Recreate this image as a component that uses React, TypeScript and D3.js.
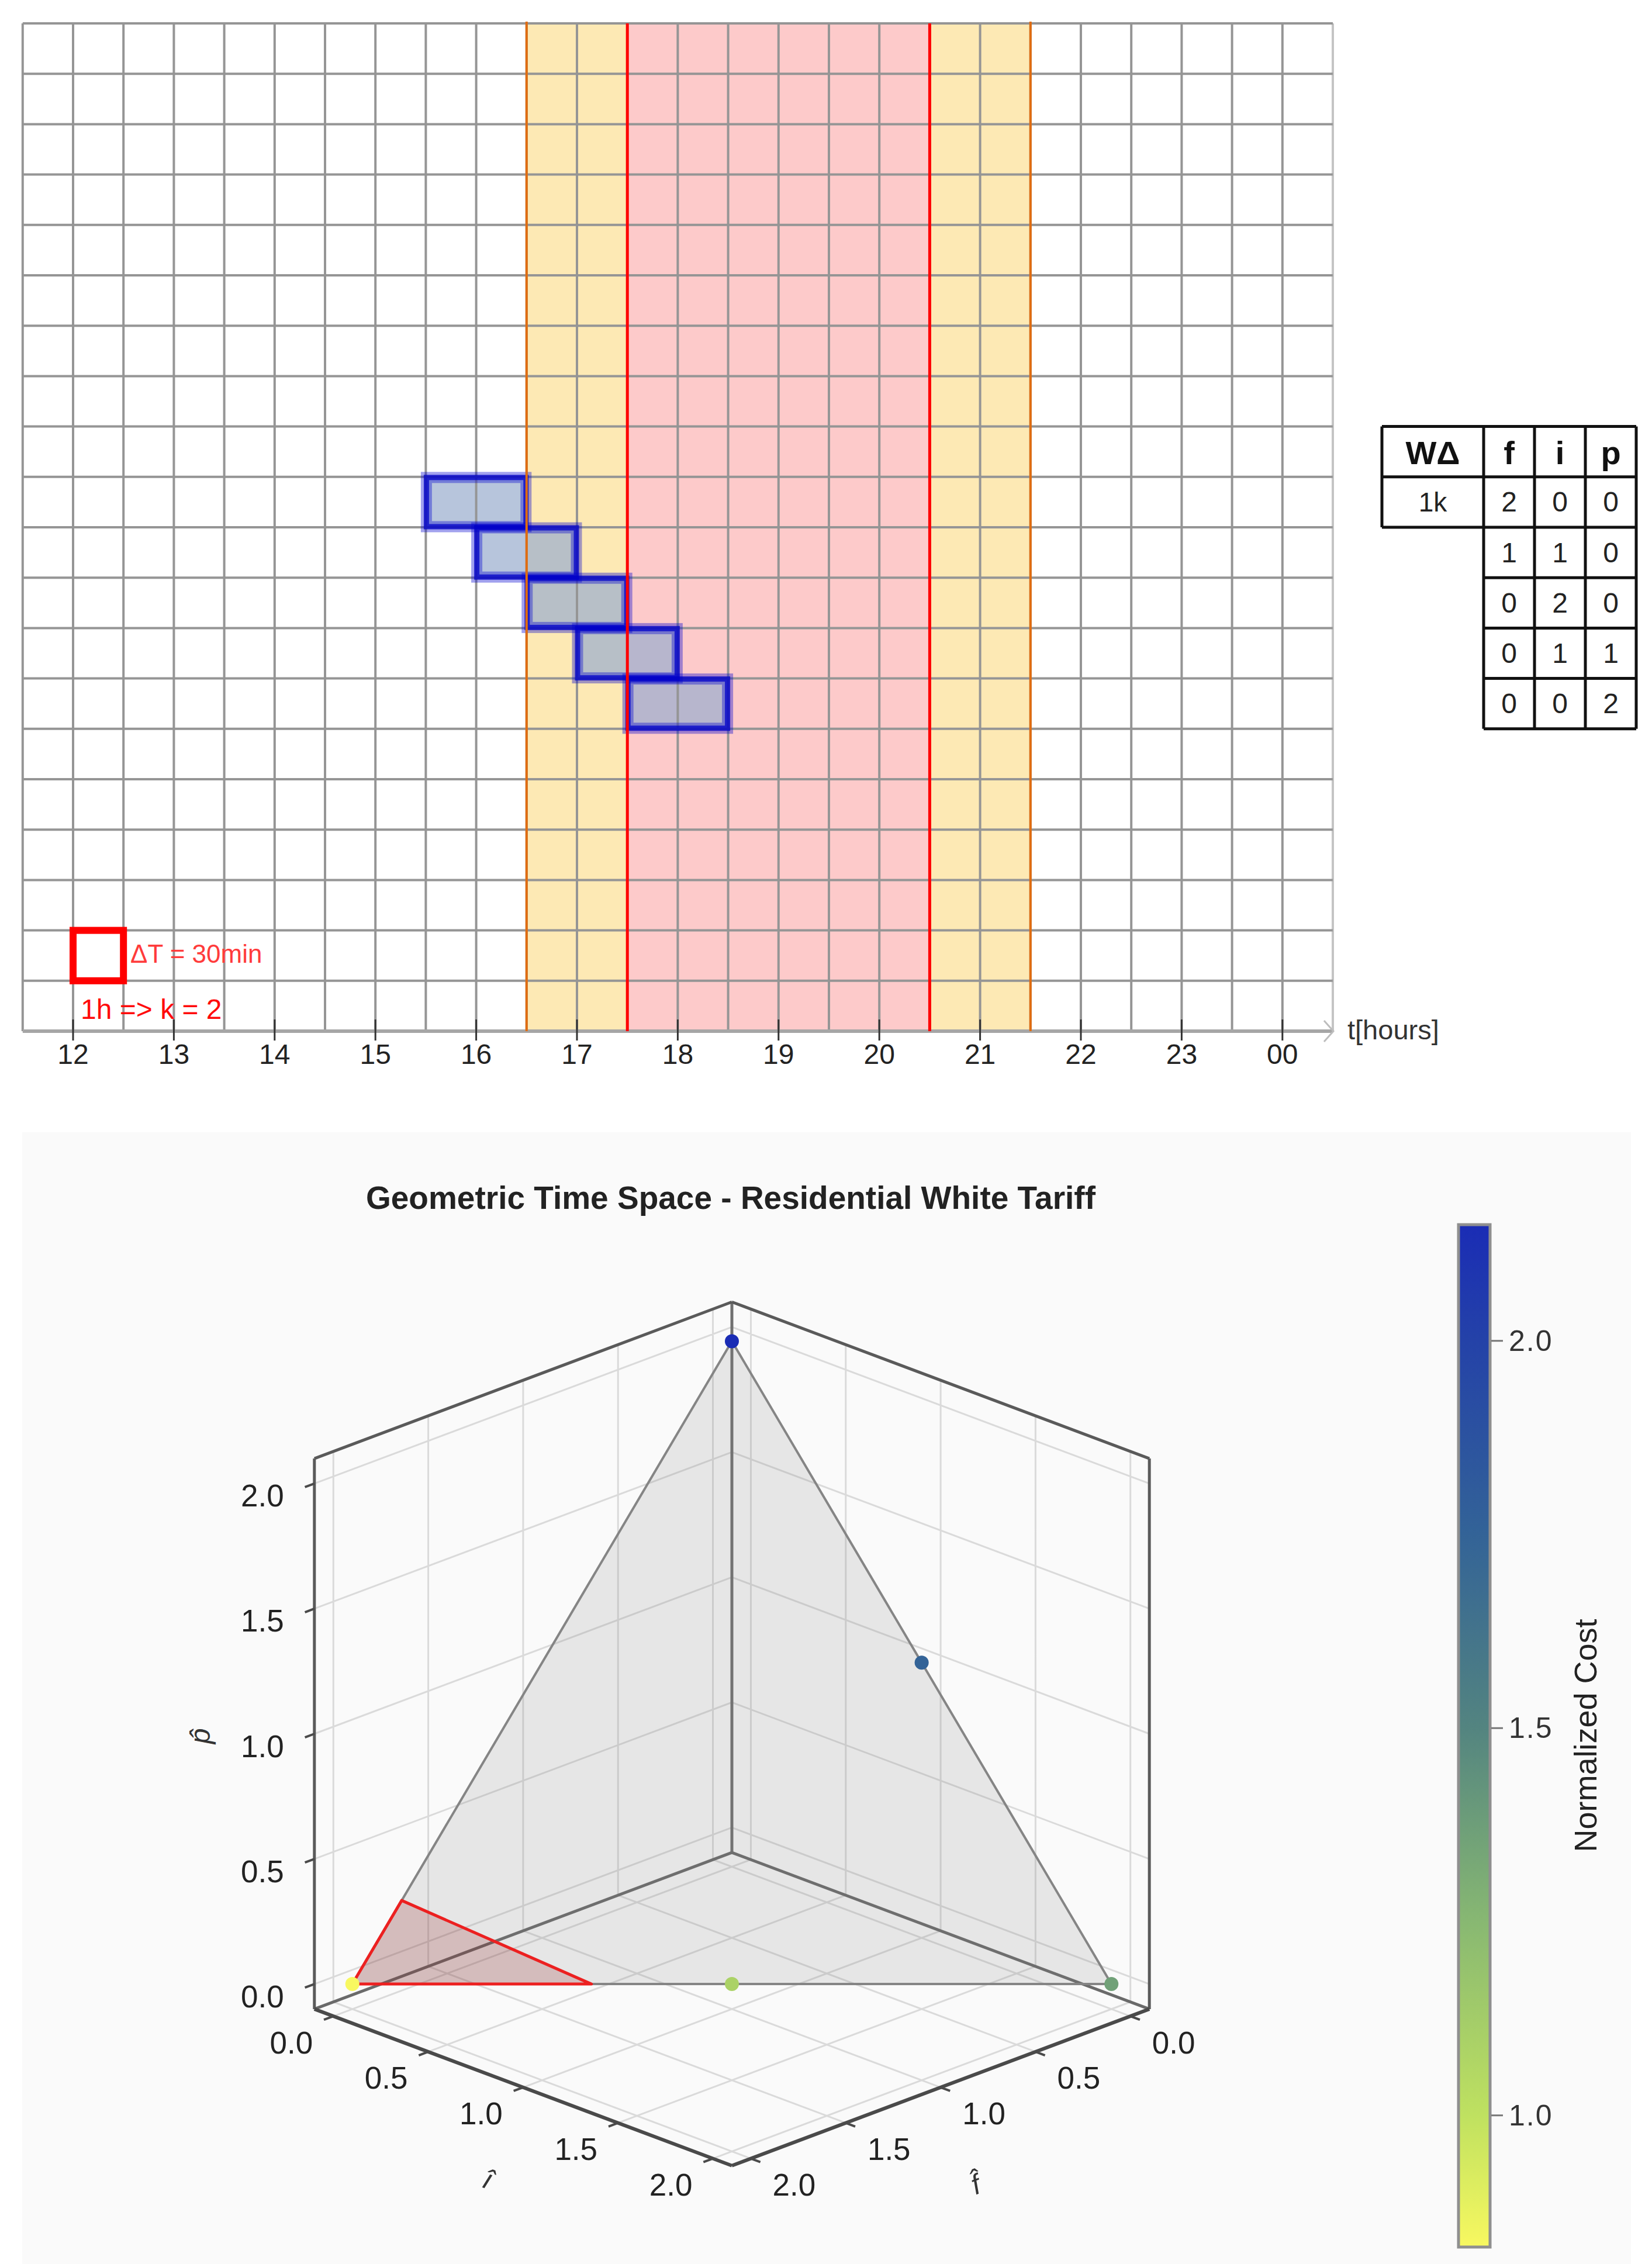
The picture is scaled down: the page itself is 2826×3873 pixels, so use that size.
import React from "react";
import * as d3 from "d3";

// ---------------- top chart data ----------------
const hourTicks = [12, 13, 14, 15, 16, 17, 18, 19, 20, 21, 22, 23, 24];
const hourLabels = ["12", "13", "14", "15", "16", "17", "18", "19", "20", "21", "22", "23", "00"];
const timeDomain = [11.5, 24.5];
const slotHours = 0.5;
const rowCount = 20;
const intermediatePeriod = [16.5, 21.5];
const peakPeriod = [17.5, 20.5];
const blockStarts = [15.5, 16, 16.5, 17, 17.5];
const blockRows = [9, 10, 11, 12, 13];
const blockHours = 1;
const exampleSlotStart = 12;
const exampleSlotRow = 18;

// ---------------- table data ----------------
const tableHeader = ["WΔ", "f", "i", "p"];
const tableEnergy = "1k";
const tableF = [2, 1, 0, 0, 0];
const tableI = [0, 1, 2, 1, 0];
const tableP = [0, 0, 0, 1, 2];
const tableFirstRow = 8;

// ---------------- 3D chart data ----------------
const pointF = [2, 1, 0, 0, 0];
const pointI = [0, 1, 2, 1, 0];
const pointP = [0, 0, 0, 1, 2];
const pointCost = [0.83, 1.09, 1.36, 1.75, 2.15];
const simplexVerts = [[2, 0, 0], [0, 2, 0], [0, 0, 2]];
const redRegion = [[2, 0, 0], [1.37, 0.63, 0], [1.74, 0, 0.26]];
const axisTicks = [0, 0.5, 1, 1.5, 2];
const axisLimits = [-0.1, 2.1];
const colorbarTicks = [1.0, 1.5, 2.0];
const cmapT = [0, 0.129, 0.318, 0.508, 0.697, 0.886, 1];
const cmapColors = ["#f8f860", "#bfe160", "#88b872", "#538480", "#336397", "#2442a8", "#1a2cb5"];

const FONT = "'Liberation Sans', Arial, Helvetica, sans-serif";

export default function App() {
  // ---------- top chart scales ----------
  const x = d3.scaleLinear().domain(timeDomain).range([38.8, 2280]);
  const y = d3.scaleLinear().domain([0, rowCount]).range([40, 1764]);
  const slots = d3.range(timeDomain[0], timeDomain[1] + 1e-6, slotHours);
  const rows = d3.range(0, rowCount + 1);

  // ---------- 3D projection ----------
  const [lo, hi] = axisLimits;
  const n = d3.scaleLinear().domain(axisLimits).range([-1, 1]);
  const S = 505, cx = 1252, cy = 2966;
  const sinE = 0.375, pz = 0.9325, c45 = Math.SQRT1_2;
  const proj = (f: number, i: number, p: number): [number, number] => {
    const nf = n(f), ni = n(i), np = n(p);
    return [cx + S * c45 * (ni - nf), cy + S * c45 * sinE * (nf + ni) - S * pz * np];
  };
  const seg = (a: [number, number], b: [number, number]) => `M${a[0]},${a[1]}L${b[0]},${b[1]}`;
  const poly = (pts: number[][]) => d3.line()(pts.map((v) => proj(v[0], v[1], v[2]))) + "Z";

  const costExtent = d3.extent(pointCost) as [number, number];
  const tScale = d3.scaleLinear().domain(costExtent).range([0, 1]);
  const cmap = d3.scaleLinear<string>().domain(cmapT).range(cmapColors).interpolate(d3.interpolateRgb);
  const cb = d3.scaleLinear().domain(costExtent).range([3844, 2095]);

  const gridPaths: string[] = [];
  axisTicks.forEach((t) => {
    gridPaths.push(seg(proj(t, lo, lo), proj(t, lo, hi)));
    gridPaths.push(seg(proj(lo, lo, t), proj(hi, lo, t)));
    gridPaths.push(seg(proj(lo, t, lo), proj(lo, t, hi)));
    gridPaths.push(seg(proj(lo, lo, t), proj(lo, hi, t)));
    gridPaths.push(seg(proj(t, lo, lo), proj(t, hi, lo)));
    gridPaths.push(seg(proj(lo, t, lo), proj(hi, t, lo)));
  });

  // table geometry
  const tx = [2364, 2538, 2625, 2712, 2799];
  const tyTop = y(tableFirstRow);
  const rowH = y(1) - y(0);

  return (
    <svg
      width={2826}
      height={3873}
      style={{ position: "absolute", left: 0, top: 0, display: "block", background: "#ffffff" }}
      fontFamily={FONT}
    >
      <defs>
        <linearGradient id="cbar" x1="0" y1="1" x2="0" y2="0">
          {cmapT.map((t, k) => (
            <stop key={k} offset={t} stopColor={cmapColors[k]} />
          ))}
        </linearGradient>
      </defs>

      {/* ================= TOP CHART ================= */}
      <rect x={x(intermediatePeriod[0])} y={y(0)} width={x(intermediatePeriod[1]) - x(intermediatePeriod[0])} height={y(rowCount) - y(0)} fill="#fde9b4" />
      <rect x={x(peakPeriod[0])} y={y(0)} width={x(peakPeriod[1]) - x(peakPeriod[0])} height={y(rowCount) - y(0)} fill="#fdcaca" />

      {/* block fills */}
      {blockStarts.map((s, k) => (
        <rect key={"bf" + k} x={x(s)} y={y(blockRows[k])} width={x(s + blockHours) - x(s)} height={y(1) - y(0)} fill="rgba(155,174,206,0.72)" />
      ))}

      {/* grid */}
      {slots.map((s, k) => (
        <line key={"v" + k} x1={x(s)} x2={x(s)} y1={y(0)} y2={y(rowCount)} stroke={k === slots.length - 1 ? "#c4c4c4" : "#959595"} strokeWidth={4} />
      ))}
      {rows.map((r) => (
        <line key={"h" + r} x1={x(timeDomain[0])} x2={x(timeDomain[1])} y1={y(r)} y2={y(r)} stroke={r === rowCount ? "#a6a6a6" : "#959595"} strokeWidth={r === rowCount ? 6 : 4} />
      ))}

      {/* block outlines */}
      {blockStarts.map((s, k) => (
        <g key={"bo" + k}>
          <rect x={x(s) + 1} y={y(blockRows[k]) + 1} width={x(s + blockHours) - x(s) - 2} height={y(1) - y(0) - 2} fill="none" stroke="rgba(0,0,210,0.37)" strokeWidth={19} />
          <rect x={x(s) + 1} y={y(blockRows[k]) + 1} width={x(s + blockHours) - x(s) - 2} height={y(1) - y(0) - 2} fill="none" stroke="rgba(0,0,200,0.75)" strokeWidth={9} />
        </g>
      ))}

      {/* period boundary lines */}
      {intermediatePeriod.map((t, k) => (
        <line key={"o" + k} x1={x(t)} x2={x(t)} y1={y(0) - 3} y2={y(rowCount)} stroke="#e06c10" strokeWidth={4} />
      ))}
      {peakPeriod.map((t, k) => (
        <line key={"r" + k} x1={x(t)} x2={x(t)} y1={y(0)} y2={y(rowCount)} stroke="#ff0000" strokeWidth={5} />
      ))}

      {/* example slot */}
      <rect x={x(exampleSlotStart)} y={y(exampleSlotRow)} width={x(exampleSlotStart + slotHours) - x(exampleSlotStart)} height={y(1) - y(0)} fill="none" stroke="#ff0000" strokeWidth={12} />
      <text x={223} y={1647} fontSize={44} fill="#ff3b3b">ΔT = 30min</text>
      <text x={138} y={1743} fontSize={48} fill="#ff0a0a">1h =&gt; k = 2</text>

      {/* x axis ticks & labels */}
      {hourTicks.map((h, k) => (
        <g key={"t" + k}>
          <line x1={x(h)} x2={x(h)} y1={y(rowCount) - 20} y2={y(rowCount) + 16} stroke="#333" strokeWidth={3} />
          <text x={x(h)} y={1820} fontSize={48} textAnchor="middle" fill="#222">{hourLabels[k]}</text>
        </g>
      ))}
      <polyline points={`${x(timeDomain[1]) - 15},${y(rowCount) - 18} ${x(timeDomain[1]) + 1},${y(rowCount)} ${x(timeDomain[1]) - 15},${y(rowCount) + 18}`} fill="none" stroke="#bdbdbd" strokeWidth={3} />
      <text x={2305} y={1778} fontSize={47} fill="#333">t[hours]</text>

      {/* ================= TABLE ================= */}
      <g>
        {tableHeader.map((h, k) => (
          <text key={"th" + k} x={(tx[k] + tx[k + 1]) / 2} y={tyTop + rowH / 2 + 2} fontSize={56} fontWeight="bold" textAnchor="middle" dominantBaseline="central" fill="#111">{h}</text>
        ))}
        <text x={(tx[0] + tx[1]) / 2} y={tyTop + rowH * 1.5} fontSize={46} textAnchor="middle" dominantBaseline="central" fill="#222">{tableEnergy}</text>
        {tableF.map((v, r) => (
          <g key={"tr" + r}>
            {[v, tableI[r], tableP[r]].map((val, c) => (
              <text key={c} x={(tx[c + 1] + tx[c + 2]) / 2} y={tyTop + rowH * (r + 1.5)} fontSize={48} textAnchor="middle" dominantBaseline="central" fill="#222">{val}</text>
            ))}
          </g>
        ))}
        {/* borders */}
        <path
          d={[
            seg([tx[0], tyTop], [tx[4], tyTop]),
            seg([tx[0], tyTop + rowH], [tx[4], tyTop + rowH]),
            seg([tx[0], tyTop + 2 * rowH], [tx[4], tyTop + 2 * rowH]),
            seg([tx[0], tyTop], [tx[0], tyTop + 2 * rowH]),
            ...d3.range(3, 7).map((r) => seg([tx[1], tyTop + r * rowH], [tx[4], tyTop + r * rowH])),
            ...[1, 2, 3, 4].map((c) => seg([tx[c], tyTop], [tx[c], tyTop + 6 * rowH])),
          ].join("")}
          stroke="#111"
          strokeWidth={5}
          fill="none"
        />
      </g>

      {/* ================= 3D PANEL ================= */}
      <rect x={38} y={1937} width={2752} height={1936} fill="#fafafa" />
      <text x={1250} y={2068} fontSize={55} fontWeight="bold" textAnchor="middle" fill="#222">
        Geometric Time Space - Residential White Tariff
      </text>

      {/* wall grids */}
      <path d={gridPaths.join("")} stroke="#dadada" strokeWidth={3} fill="none" />

      {/* back box edges */}
      <path d={seg(proj(lo, lo, lo), proj(lo, lo, hi))} stroke="#707070" strokeWidth={5} />
      <path d={seg(proj(hi, lo, lo), proj(lo, lo, lo)) + seg(proj(lo, lo, lo), proj(lo, hi, lo))} stroke="#6a6a6a" strokeWidth={5} />

      {/* simplex */}
      <path d={poly(simplexVerts)} fill="rgba(128,128,128,0.17)" stroke="#858585" strokeWidth={4} strokeLinejoin="round" />
      <path d={poly(redRegion)} fill="rgba(140,10,10,0.19)" stroke="#ec2020" strokeWidth={5} strokeLinejoin="round" />

      {/* points */}
      {pointF.map((f, k) => {
        const [px, py] = proj(f, pointI[k], pointP[k]);
        return <circle key={"pt" + k} cx={px} cy={py} r={12} fill={cmap(tScale(pointCost[k]))} />;
      })}

      {/* front box edges */}
      <path
        d={[
          seg(proj(hi, lo, lo), proj(hi, lo, hi)),
          seg(proj(lo, hi, lo), proj(lo, hi, hi)),
          seg(proj(hi, lo, hi), proj(lo, lo, hi)),
          seg(proj(lo, lo, hi), proj(lo, hi, hi)),
        ].join("")}
        stroke="#5a5a5a"
        strokeWidth={5}
        fill="none"
      />
      <path d={seg(proj(hi, lo, lo), proj(hi, hi, lo)) + seg(proj(hi, hi, lo), proj(lo, hi, lo))} stroke="#4a4a4a" strokeWidth={6} fill="none" strokeLinejoin="round" />

      {/* ticks */}
      {axisTicks.map((t, k) => {
        const pp = proj(hi, lo, t);
        const ip = proj(hi, t, lo);
        const fp = proj(t, hi, lo);
        return (
          <g key={"ax" + k}>
            <path d={seg(pp, proj(hi + 0.05, lo, t))} stroke="#4a4a4a" strokeWidth={4} />
            <path d={seg(ip, proj(hi + 0.05, t, lo))} stroke="#4a4a4a" strokeWidth={4} />
            <path d={seg(fp, proj(t, hi + 0.05, lo))} stroke="#4a4a4a" strokeWidth={4} />
            <text x={pp[0] - 89} y={pp[1] + 21} fontSize={53} textAnchor="middle" dominantBaseline="central" fill="#222">{t.toFixed(1)}</text>
            <text x={ip[0] - 72} y={ip[1] + 45} fontSize={53} textAnchor="middle" dominantBaseline="central" fill="#222">{t.toFixed(1)}</text>
            <text x={fp[0] + 74} y={fp[1] + 45} fontSize={53} textAnchor="middle" dominantBaseline="central" fill="#222">{t.toFixed(1)}</text>
          </g>
        );
      })}

      {/* axis titles */}
      <text x={0} y={0} transform="translate(342,2970) rotate(-90)" fontSize={48} fontStyle="italic" textAnchor="middle" dominantBaseline="central" fill="#333">{"p\u0302"}</text>
      <text x={0} y={0} transform="translate(835,3728) rotate(21)" fontSize={48} fontStyle="italic" textAnchor="middle" dominantBaseline="central" fill="#333">{"\u00ee"}</text>
      <text x={0} y={0} transform="translate(1669,3737) rotate(-21)" fontSize={48} fontStyle="italic" textAnchor="middle" dominantBaseline="central" fill="#333">{"f\u0302"}</text>

      {/* colorbar */}
      <rect x={2495} y={cb(costExtent[1])} width={54} height={cb(costExtent[0]) - cb(costExtent[1])} fill="url(#cbar)" stroke="#8f8f8f" strokeWidth={5} />
      {colorbarTicks.map((t, k) => (
        <g key={"cb" + k}>
          <line x1={2551} x2={2571} y1={cb(t)} y2={cb(t)} stroke="#777" strokeWidth={3} />
          <text x={2581} y={cb(t)} fontSize={50} dominantBaseline="central" fill="#333" letterSpacing={2}>{t.toFixed(1)}</text>
        </g>
      ))}
      <text x={0} y={0} transform="translate(2712,2969) rotate(-90)" fontSize={54} textAnchor="middle" dominantBaseline="central" fill="#222">Normalized Cost</text>
    </svg>
  );
}
